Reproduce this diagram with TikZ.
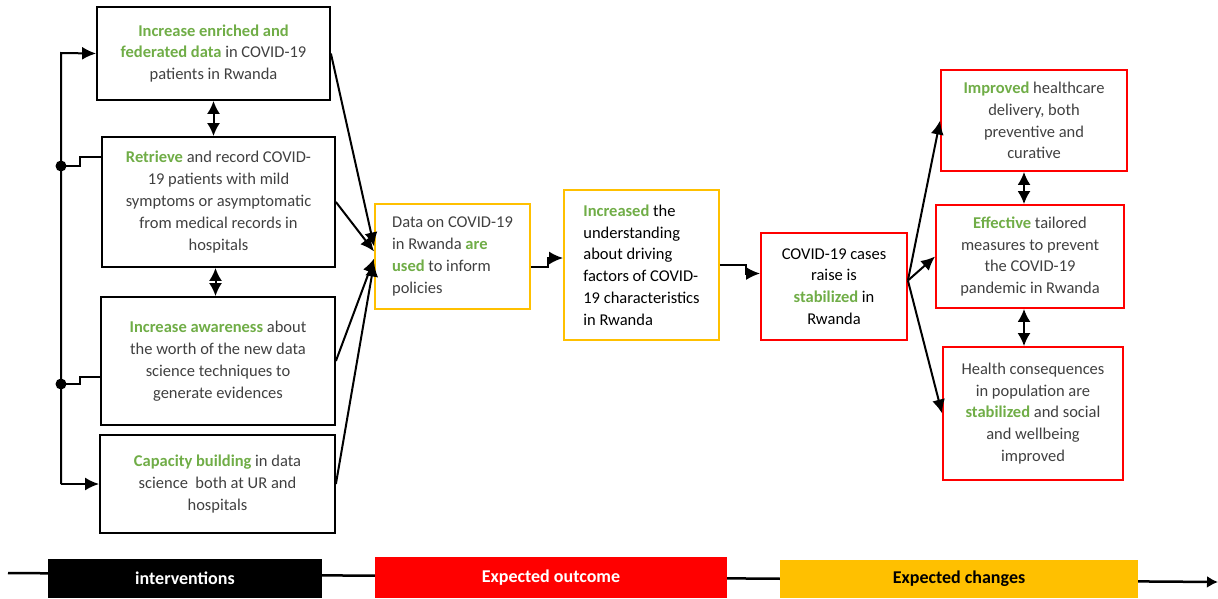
\documentclass[tikz,border=0pt]{standalone}
\usepackage{fontspec}
\setmainfont{Carlito}
\usetikzlibrary{arrows.meta,positioning}
\definecolor{hlgreen}{HTML}{70AD47}
\definecolor{gold}{HTML}{FFC000}
\definecolor{boxtext}{HTML}{404040}
\newcommand{\hl}[1]{\textbf{\color{hlgreen}#1}}
\tikzset{
	box/.style={draw, line width=1.8pt, inner sep=0pt, align=center, text=boxtext, font=\fontsize{16.5}{21.8}\selectfont},
	inbox/.style={box, draw=black},
	outbox/.style={box, draw=gold},
	chgbox/.style={box, draw=red},
	arr/.style={line width=2pt, -{Latex[length=14pt,width=13pt]}},
	darr/.style={line width=2pt, {Latex[length=13pt,width=13pt]}-{Latex[length=13pt,width=13pt]}},
	bar/.style={inner sep=0pt, font=\bfseries\fontsize{18}{20}\selectfont}
}

\begin{document}
\begin{tikzpicture}[x=1pt,y=-1pt]
	\useasboundingbox (0,0) rectangle (1218,598);
	\node[inbox, minimum width=233pt, minimum height=93pt] (enrich) at (213.5,53.5) {\hl{Increase enriched and}\\ \hl{federated data} in COVID-19\\ patients in Rwanda};
	\node[inbox, minimum width=233pt, minimum height=130pt] (retrieve) at (218.5,202) {\hl{Retrieve} and record COVID-\\19 patients with mild\\ symptoms or asymptomatic\\ from medical records in\\ hospitals};
	\node[inbox, minimum width=234pt, minimum height=128pt] (aware) at (218,361) {\hl{Increase awareness} about\\ the worth of the new data\\ science techniques to\\ generate evidences};
	\node[inbox, minimum width=235pt, minimum height=98pt] (capacity) at (217.5,484) {\hl{Capacity building} in data\\ science~ both at UR and\\ hospitals};

	\node[outbox, align=left, minimum width=155pt, minimum height=105pt] (used) at (452.5,256.5) {Data on COVID-19\\ in Rwanda \hl{are}\\ \hl{used} to inform\\ policies};
	\node[outbox, align=left, text=black, minimum width=155pt, minimum height=150pt] (understand) at (641.5,265) {\hl{Increased} the\\ understanding\\ about driving\\ factors of COVID-\\ 19 characteristics\\ in Rwanda};

	\node[chgbox, text=black, minimum width=146pt, minimum height=107pt] (cases) at (834,286.5) {COVID-19 cases\\ raise is\\ \hl{stabilized} in\\ Rwanda};
	\node[chgbox, minimum width=186pt, minimum height=101pt] (care) at (1034,120.5) {\hl{Improved} healthcare\\ delivery, both\\ preventive and\\ curative};
	\node[chgbox, minimum width=188pt, minimum height=103pt] (measures) at (1030,256.5) {\hl{Effective} tailored\\ measures to prevent\\ the COVID-19\\ pandemic in Rwanda};
	\node[chgbox, minimum width=180pt, minimum height=133pt] (health) at (1033,413.5) {Health consequences\\ in population are\\ \hl{stabilized} and social\\ and wellbeing\\ improved};

	\coordinate (bustop) at (61,53);
	\coordinate (busbot) at (61,484);
	\coordinate (dotA) at (61,166);
	\coordinate (dotB) at (61,384);
	\draw[arr] (busbot) -- (bustop) -- (enrich.west);
	\draw[arr] (busbot) -- (capacity.west);
	\fill (dotA) circle (5.5pt);
	\fill (dotB) circle (5.5pt);
	\draw[line width=1.5pt] (dotA) -- ++(19,0) |- ([yshift=45pt]retrieve.west);
	\draw[line width=1.5pt] (dotB) -- ++(19,0) |- ([yshift=-16pt]aware.west);

	\draw[darr] (enrich.south) -- (enrich.south |- retrieve.north);
	\draw[darr] ([xshift=-3pt]retrieve.south) -- ([xshift=-3pt]retrieve.south |- aware.north);
	\draw[darr] ([xshift=-10pt]care.south) -- ([xshift=-10pt]care.south |- measures.north);
	\draw[darr] ([xshift=-6pt]measures.south) -- ([xshift=-6pt]measures.south |- health.north);

	\draw[arr] (enrich.east) -- ([yshift=10pt]used.west);
	\draw[arr] (retrieve.east) -- ([yshift=5pt]used.west);
	\draw[arr] (aware.east) -- ([yshift=-2pt]used.west);
	\draw[arr] (capacity.east) -- ([yshift=-6pt]used.west);

	\draw[arr] ([yshift=-10pt]used.east) -- ++(17,0) |- ([yshift=7pt]understand.west);
	\draw[arr] (understand.east) -- ++(26,0) |- ([yshift=13pt]cases.west);

	\draw[arr] ([yshift=6pt]cases.east) -- (care.west);
	\draw[arr] ([yshift=6pt]cases.east) -- (measures.west);
	\draw[arr] ([yshift=6pt]cases.east) -- (health.west);

	\coordinate (timestart) at (8,573);
	\coordinate (timeend) at (1218,582);
	\draw[line width=2.5pt, -{Latex[length=11pt,width=12pt]}] (timestart) -- (timeend);
	\node[bar, fill=black, text=white, minimum width=274pt, minimum height=39pt] (intvbar) at (185,578.5) {interventions};
	\node[bar, fill=red, text=white, minimum width=352pt, minimum height=41pt] (outcbar) at (551,577.5) {Expected outcome};
	\node[bar, fill=gold, text=black, minimum width=358pt, minimum height=38pt] (chgbar) at (959,579) {Expected changes};
\end{tikzpicture}
\end{document}
